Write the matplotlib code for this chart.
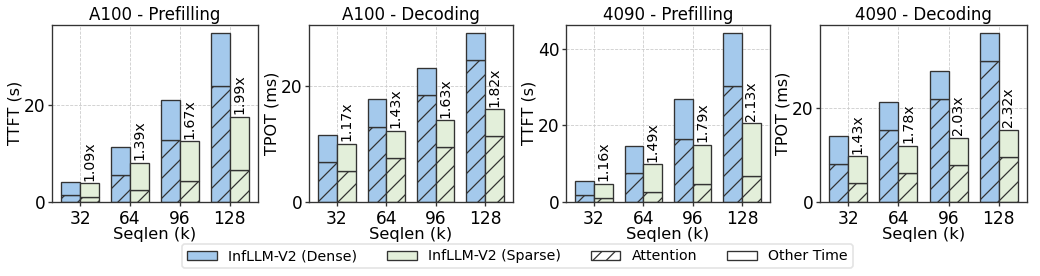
import matplotlib
matplotlib.use("Agg")
import matplotlib.pyplot as plt
import numpy as np
from matplotlib.patches import Patch
from matplotlib.ticker import MultipleLocator

seqlens = ["32", "64", "96", "128"]
titles = ["A100 - Prefilling", "A100 - Decoding", "4090 - Prefilling", "4090 - Decoding"]
ylabels = ["TTFT (s)", "TPOT (ms)", "TTFT (s)", "TPOT (ms)"]

# total time / attention part, per panel
dense_total = [
    [4.2, 11.3, 21.2, 35.0],
    [11.6, 17.7, 23.0, 29.1],
    [5.5, 14.5, 27.0, 44.1],
    [14.0, 21.3, 28.0, 36.1],
]
dense_attn = [
    [1.45, 5.6, 12.9, 24.0],
    [6.9, 12.9, 18.4, 24.4],
    [1.8, 7.6, 16.5, 30.2],
    [8.2, 15.4, 22.1, 30.2],
]
sparse_total = [
    [3.9, 8.1, 12.6, 17.6],
    [10.0, 12.3, 14.1, 16.0],
    [4.8, 9.8, 15.0, 20.6],
    [9.8, 12.0, 13.7, 15.4],
]
sparse_attn = [
    [1.0, 2.5, 4.4, 6.6],
    [5.3, 7.5, 9.5, 11.3],
    [1.0, 2.6, 4.7, 6.7],
    [4.1, 6.1, 7.9, 9.7],
]
speedups = [
    ["1.09x", "1.39x", "1.67x", "1.99x"],
    ["1.17x", "1.43x", "1.63x", "1.82x"],
    ["1.16x", "1.49x", "1.79x", "2.13x"],
    ["1.43x", "1.78x", "2.03x", "2.32x"],
]

BLUE = "#a4c9ec"
GREEN = "#e3efda"
EDGE = "#333333"

plt.rcParams.update({
    "font.family": "DejaVu Sans",
    "hatch.linewidth": 0.75,
})

W, H, DPI = 1040, 276, 120
fig = plt.figure(figsize=(W / DPI, H / DPI), dpi=DPI)

# axes boxes in pixels: left, right
boxes = [(52, 258), (309, 513), (566, 770), (820, 1027)]
top_px, bot_px = 24.5, 202

x = np.arange(len(seqlens))
w = 0.38
for i, (l, r) in enumerate(boxes):
    ax = fig.add_axes([l / W, (H - bot_px) / H, (r - l) / W, (bot_px - top_px) / H])
    ax.set_axisbelow(True)
    ax.grid(True, ls="--", lw=0.5, color="#cccccc")
    dt, da = np.array(dense_total[i]), np.array(dense_attn[i])
    st, sa = np.array(sparse_total[i]), np.array(sparse_attn[i])
    ax.bar(x - w / 2, da, w, color=BLUE, edgecolor=EDGE, lw=0.8, hatch="//")
    ax.bar(x - w / 2, dt - da, w, bottom=da, color=BLUE, edgecolor=EDGE, lw=0.8)
    ax.bar(x + w / 2, sa, w, color=GREEN, edgecolor=EDGE, lw=0.8, hatch="//")
    ax.bar(x + w / 2, st - sa, w, bottom=sa, color=GREEN, edgecolor=EDGE, lw=0.8)
    for j in range(len(x)):
        ax.annotate(speedups[i][j], (x[j] + w / 2, st[j]), xytext=(0, 1.5),
                    textcoords="offset points", rotation=90, ha="center",
                    va="bottom", fontsize=8.5)
    ax.set_xticks(x)
    ax.set_xticklabels(seqlens)
    ax.yaxis.set_major_locator(MultipleLocator(20))
    ax.tick_params(labelsize=10.2, color=EDGE, length=2.5, pad=1.5)
    ax.tick_params(axis="x", pad=2.5)
    ax.set_title(titles[i], fontsize=10, pad=3)
    ax.set_ylabel(ylabels[i], fontsize=9.6, labelpad=1)
    ax.set_xlabel("Seqlen (k)", fontsize=9.8, labelpad=-1)
    for s in ax.spines.values():
        s.set_color(EDGE)

handles = [
    Patch(facecolor=BLUE, edgecolor=EDGE, lw=0.8, label="InfLLM-V2 (Dense)"),
    Patch(facecolor=GREEN, edgecolor=EDGE, lw=0.8, label="InfLLM-V2 (Sparse)"),
    Patch(facecolor="white", edgecolor=EDGE, lw=0.8, hatch="///", label="Attention"),
    Patch(facecolor="white", edgecolor=EDGE, lw=0.8, label="Other Time"),
]
fig.legend(handles=handles, loc="center", bbox_to_anchor=(517.5 / W, (H - 256) / H),
           ncol=4, fontsize=8.5, handlelength=2.1, handleheight=0.6, columnspacing=2.1,
           frameon=True, edgecolor="#dddddd", borderpad=0.35)

fig.savefig("out.png", dpi=DPI)
